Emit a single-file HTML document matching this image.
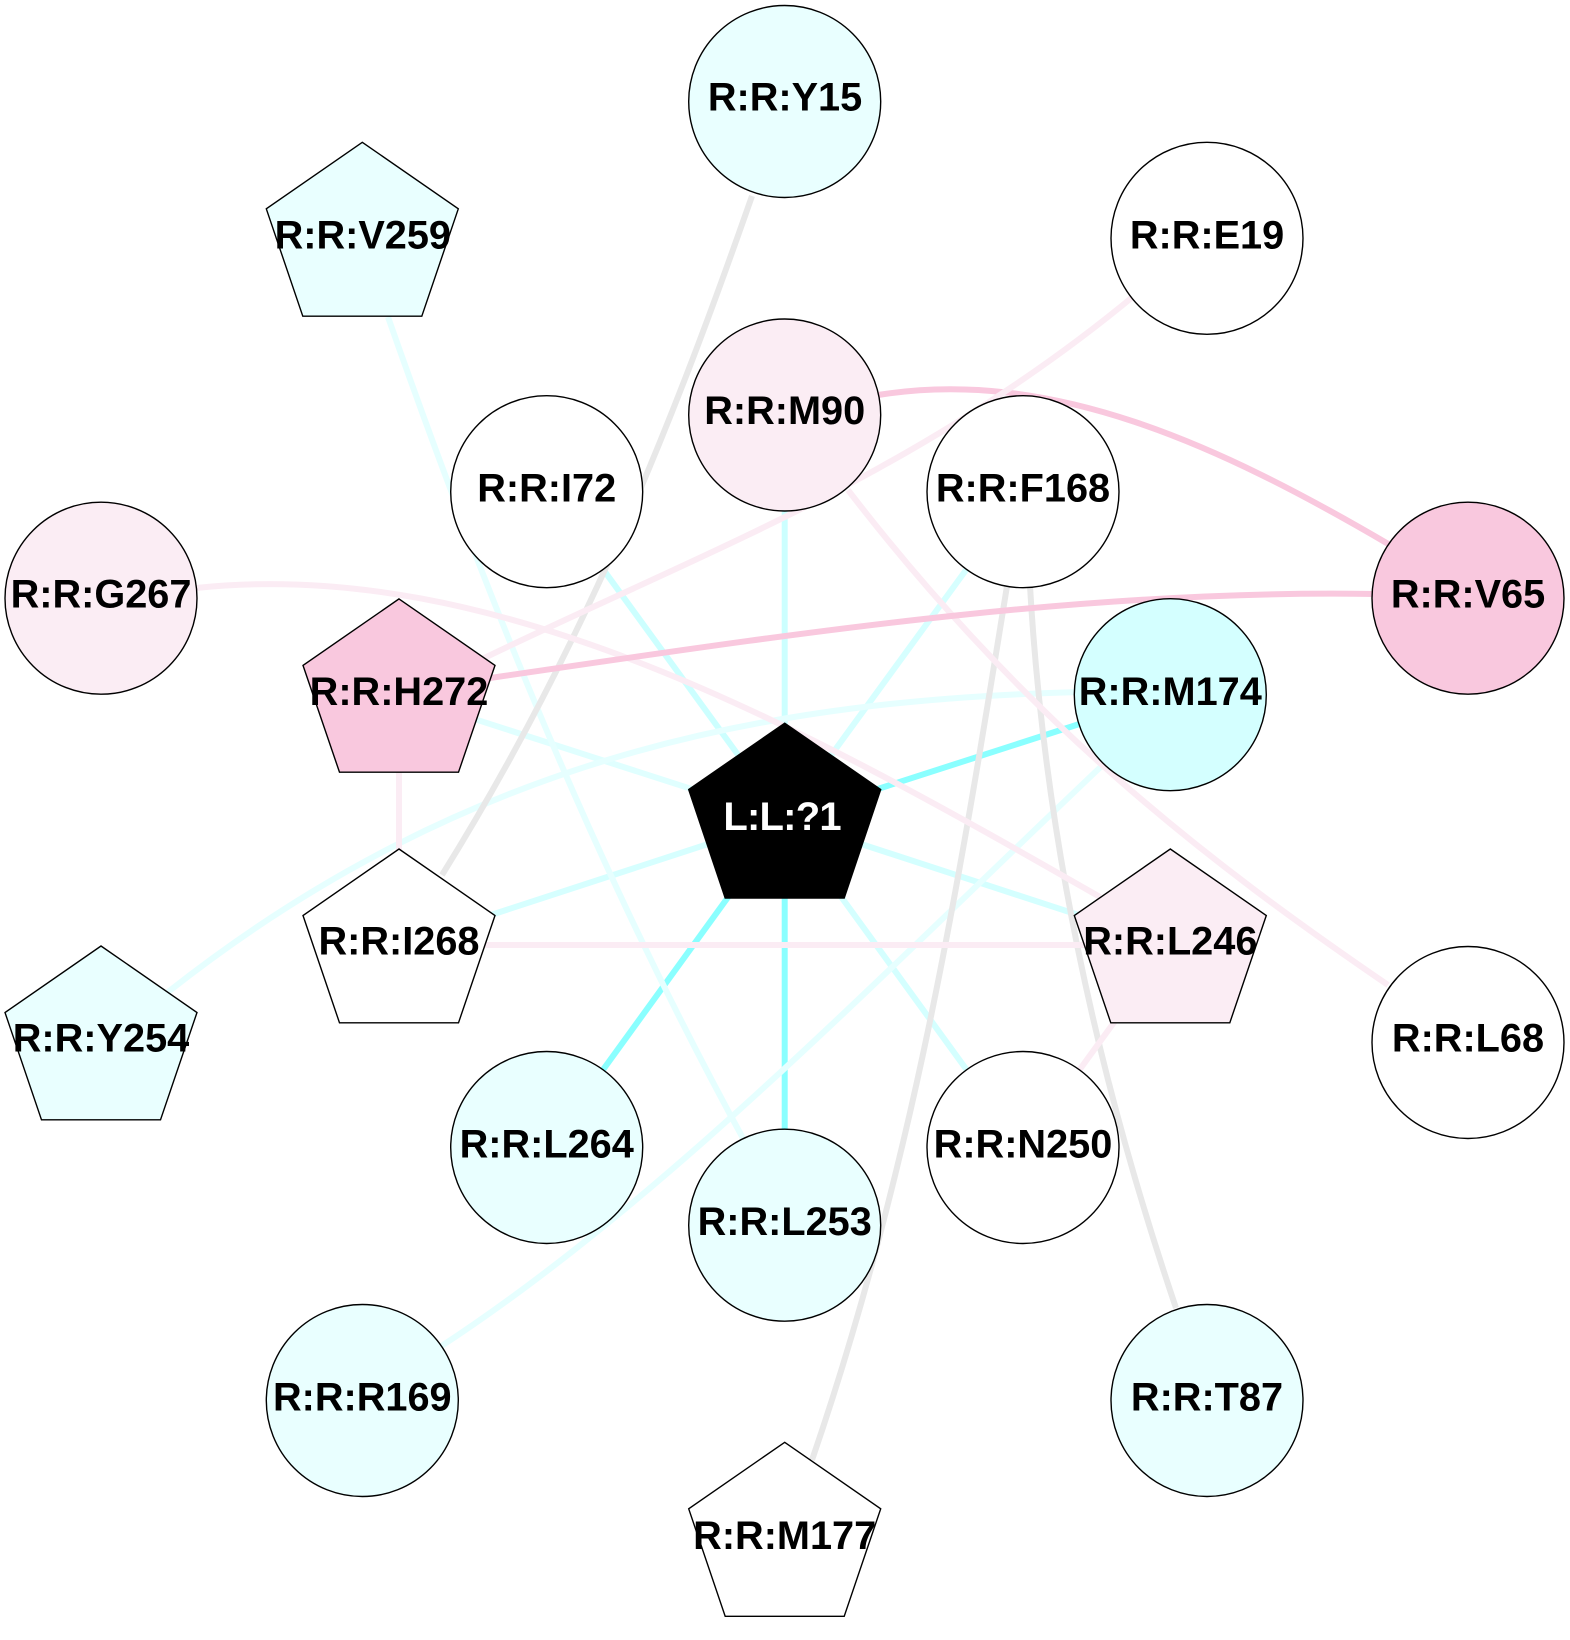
<!DOCTYPE html>
<html><head><meta charset="utf-8">
<style>
html,body{margin:0;padding:0;background:#fff}
svg{display:block}
text{font-family:"Liberation Sans",Arial,sans-serif;font-weight:bold;font-size:39.7px;text-anchor:middle;fill:#000}
.e{fill:none;stroke-width:6}
.n{stroke:#000;stroke-width:1.4}
</style></head>
<body>
<svg width="1570" height="1640" viewBox="0 0 1570 1640" xmlns="http://www.w3.org/2000/svg">
<g class="e">
<path d="M784.7 415V819" stroke="#ccffff"/>
<path d="M546.7 491.7L784.7 819" stroke="#ccffff"/>
<path d="M1023 491.7L784.7 819" stroke="#d6ffff"/>
<path d="M399 694.7L784.7 819" stroke="#e0ffff"/>
<path d="M399 945L784.7 819" stroke="#d6ffff"/>
<path d="M1170.3 945L784.7 819" stroke="#d4ffff"/>
<path d="M1023 1147.5L784.7 819" stroke="#d4ffff"/>
<path d="M1170.3 694.7L784.7 819" stroke="#8affff"/>
<path d="M546.7 1147.5L784.7 819" stroke="#8affff"/>
<path d="M784.7 1225.2V819" stroke="#8affff"/>
<path d="M388 317C484.5 592 594.5 867 745 1142" stroke="#e6ffff"/>
<path d="M1080 692C776 700 472 752 168 992" stroke="#e6ffff"/>
<path d="M1108 760C884 972 664 1201 440 1347" stroke="#e6ffff"/>
<path d="M752 196C673 422 584 647 442 875" stroke="#e8e8e8"/>
<path d="M1030 586C1044 828 1094 1066 1176 1308" stroke="#e8e8e8"/>
<path d="M1007 586C960 877 913 1167 812 1460" stroke="#e8e8e8"/>
<path d="M848 490C1028 724 1208 862 1388 985" stroke="#fbecf4"/>
<path d="M196 588C496 556 800 725 1100 897" stroke="#fbecf4"/>
<path d="M399 694.7V945" stroke="#fbecf4"/>
<path d="M399 945H1170.3" stroke="#fbecf4"/>
<path d="M1023 1147.5L1170.3 945" stroke="#fbecf4"/>
<path d="M490 678C785 635 1080 589 1375 594" stroke="#f9c8de"/>
<path d="M878 395C1050 367 1218 444 1390 545" stroke="#f9c8de"/>
<path d="M1135 295C918 475 701 553 480 660" stroke="#fbecf4"/>
</g>
<g class="n">
<circle cx="784.7" cy="101.5" r="96" fill="#e9ffff"/>
<circle cx="1207" cy="238.3" r="96" fill="#fff"/>
<circle cx="784.7" cy="415" r="96" fill="#fbedf4"/>
<circle cx="546.7" cy="491.7" r="96" fill="#fff"/>
<circle cx="1023" cy="491.7" r="96" fill="#fff"/>
<circle cx="101" cy="598.2" r="96" fill="#fbedf4"/>
<circle cx="1468" cy="598.2" r="96" fill="#f9c8de"/>
<circle cx="1170.3" cy="694.7" r="96" fill="#d4ffff"/>
<circle cx="1468" cy="1042.5" r="96" fill="#fff"/>
<circle cx="546.7" cy="1147.5" r="96" fill="#e9ffff"/>
<circle cx="1023" cy="1147.5" r="96" fill="#fff"/>
<circle cx="784.7" cy="1225.2" r="96" fill="#e9ffff"/>
<circle cx="362.3" cy="1400.5" r="96" fill="#e9ffff"/>
<circle cx="1207" cy="1400.5" r="96" fill="#e9ffff"/>
<polygon points="362.3,142.3 458.3,208.8 421.8,316.2 302.8,316.2 266.3,208.8" fill="#e9ffff"/>
<polygon points="399,598.9 495,665.4 458.5,772.2 339.5,772.2 303,665.4" fill="#f9c8de"/>
<polygon points="784.7,723.2 880.7,789.5 844.2,898 725.2,898 688.7,789.5" fill="#000"/>
<polygon points="399,849 495,915.5 458.5,1022.8 339.5,1022.8 303,915.5" fill="#fff"/>
<polygon points="1170.3,849 1266.3,915.5 1229.8,1022.8 1110.8,1022.8 1074.3,915.5" fill="#fbedf4"/>
<polygon points="101,946 197,1012.5 160.5,1119.8 41.5,1119.8 5,1012.5" fill="#e9ffff"/>
<polygon points="784.7,1442.3 880.7,1508.8 844.2,1616.3 725.2,1616.3 688.7,1508.8" fill="#fff"/>
</g>
<text x="785" y="110.5">R:R:Y15</text>
<text x="1207" y="248.3">R:R:E19</text>
<text x="362.8" y="248.3">R:R:V259</text>
<text x="784.7" y="424">R:R:M90</text>
<text x="546.7" y="501.7">R:R:I72</text>
<text x="1023" y="501.7">R:R:F168</text>
<text x="101" y="607.7">R:R:G267</text>
<text x="1468" y="607.7">R:R:V65</text>
<text x="399" y="705">R:R:H272</text>
<text x="1170.3" y="705">R:R:M174</text>
<text x="723.4" y="830" style="fill:#fff;text-anchor:start;letter-spacing:-0.8px;font-size:40px">L:L:?1</text>
<text x="399" y="954.7">R:R:I268</text>
<text x="1170.3" y="954.7">R:R:L246</text>
<text x="101" y="1051.7">R:R:Y254</text>
<text x="1468" y="1051.7">R:R:L68</text>
<text x="546.7" y="1157.7">R:R:L264</text>
<text x="1023" y="1157.7">R:R:N250</text>
<text x="784.7" y="1235">R:R:L253</text>
<text x="362.3" y="1410.7">R:R:R169</text>
<text x="1207" y="1410.7">R:R:T87</text>
<text x="784.7" y="1549">R:R:M177</text>
</svg>
</body></html>
